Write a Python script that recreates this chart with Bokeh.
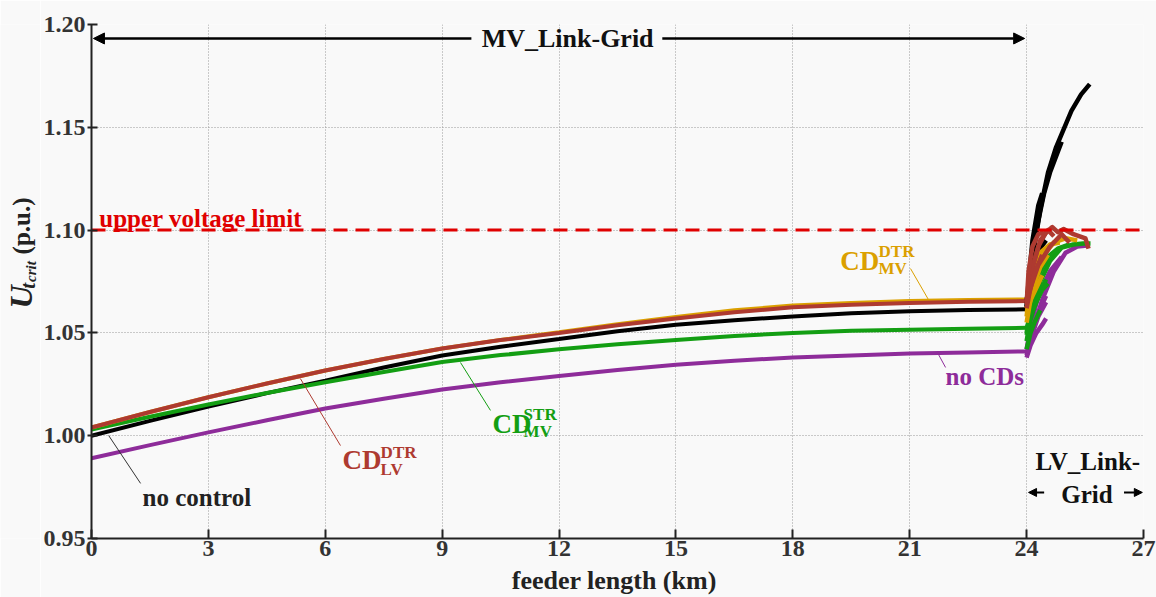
from bokeh.plotting import figure
from bokeh.layouts import row
from bokeh.models import (FixedTicker, PrintfTickFormatter, Label, Arrow, NormalHead)
from bokeh.embed import file_html
from bokeh.resources import INLINE
import math

# ---------------- data ----------------
x_mv = [0, 1.5, 3, 4.5, 6, 7.5, 9, 10.5, 12, 13.5, 15, 16.5, 18, 19.5, 21, 22.5, 24]
no_control = [1.000, 1.0072, 1.0142, 1.0207, 1.0268, 1.0332, 1.039, 1.0433, 1.047, 1.0508, 1.054, 1.0562, 1.058, 1.0595, 1.0605, 1.0611, 1.0615]
cd_lv_dtr = [1.004, 1.0115, 1.0187, 1.0254, 1.0317, 1.0373, 1.0424, 1.0465, 1.050, 1.0537, 1.057, 1.0600, 1.0625, 1.0637, 1.0645, 1.0651, 1.0655]
cd_mv_dtr = [1.004, 1.0115, 1.0187, 1.0254, 1.0317, 1.0373, 1.0424, 1.0466, 1.0503, 1.0542, 1.0578, 1.0610, 1.0633, 1.0646, 1.0655, 1.066, 1.0663]
cd_mv_str = [1.003, 1.0092, 1.0152, 1.0208, 1.026, 1.031, 1.0358, 1.0392, 1.042, 1.0445, 1.0465, 1.0485, 1.050, 1.051, 1.0515, 1.052, 1.0525]
no_cds = [0.989, 0.9954, 1.0016, 1.0075, 1.0132, 1.018, 1.0225, 1.026, 1.029, 1.032, 1.0345, 1.0365, 1.038, 1.039, 1.040, 1.0405, 1.041]

# LV feeder branches (x list, y list)
lv_no_control = [
    ([24.0, 24.08, 24.2, 24.35, 24.55, 24.75, 24.95, 25.15, 25.4, 25.62],
     [1.061, 1.075, 1.092, 1.110, 1.128, 1.140, 1.149, 1.158, 1.166, 1.171]),
    ([24.0, 24.1, 24.25, 24.45, 24.6, 24.8, 24.9],
     [1.063, 1.080, 1.100, 1.118, 1.128, 1.138, 1.143]),
    ([24.0, 24.05, 24.15, 24.3, 24.4],
     [1.062, 1.075, 1.095, 1.112, 1.118]),
    ([24.0, 24.12, 24.3, 24.5],
     [1.066, 1.078, 1.090, 1.095]),
]
lv_no_cds = [
    ([24.0, 24.15, 24.4, 24.7, 25.0, 25.3, 25.55], [1.039, 1.050, 1.066, 1.080, 1.089, 1.092, 1.0925]),
    ([24.0, 24.1, 24.25, 24.4, 24.5], [1.038, 1.044, 1.050, 1.054, 1.057]),
    ([24.05, 24.2, 24.35, 24.5], [1.045, 1.055, 1.062, 1.068]),
    ([24.0, 24.1, 24.3, 24.5], [1.040, 1.047, 1.058, 1.065]),
    ([24.0, 24.12, 24.3, 24.6, 24.9], [1.042, 1.055, 1.068, 1.080, 1.087]),
]
lv_cd_mv_str = [
    ([24.0, 24.15, 24.35, 24.6, 24.9, 25.2, 25.45, 25.64], [1.052, 1.062, 1.075, 1.085, 1.0915, 1.093, 1.0935, 1.0935]),
    ([24.0, 24.08, 24.2, 24.35, 24.5], [1.046, 1.055, 1.063, 1.070, 1.076]),
    ([24.0, 24.1, 24.25, 24.4, 24.55], [1.049, 1.058, 1.065, 1.071, 1.074]),
    ([24.0, 24.1, 24.2, 24.35], [1.042, 1.050, 1.055, 1.061]),
    ([24.0, 24.12, 24.3, 24.55, 24.8, 25.1], [1.050, 1.064, 1.078, 1.087, 1.091, 1.093]),
]
lv_cd_mv_dtr = [
    ([24.0, 24.1, 24.25, 24.45, 24.7, 25.0, 25.3], [1.062, 1.070, 1.080, 1.088, 1.094, 1.096, 1.095]),
    ([24.0, 24.08, 24.2, 24.35, 24.55], [1.055, 1.064, 1.074, 1.082, 1.088]),
    ([24.0, 24.1, 24.25, 24.4], [1.060, 1.066, 1.072, 1.078]),
    ([24.0, 24.06, 24.18, 24.35, 24.6, 24.85], [1.058, 1.068, 1.080, 1.089, 1.093, 1.094]),
]
lv_cd_lv_dtr = [
    ([24.0, 24.1, 24.3, 24.5, 24.66, 24.8, 24.95, 25.2, 25.51, 25.59],
     [1.065, 1.078, 1.092, 1.099, 1.1015, 1.099, 1.1005, 1.098, 1.096, 1.091]),
    ([24.0, 24.15, 24.35, 24.55, 24.7], [1.066, 1.082, 1.095, 1.100, 1.097]),
    ([24.0, 24.1, 24.3, 24.6, 24.9, 25.1], [1.065, 1.072, 1.083, 1.092, 1.098, 1.094]),
    ([24.0, 24.08, 24.2, 24.4], [1.062, 1.070, 1.079, 1.088]),
    ([24.0, 24.05, 24.15, 24.3, 24.45], [1.064, 1.080, 1.092, 1.098, 1.099]),
]

upper_limit = 1.10
x_ticks = [0, 3, 6, 9, 12, 15, 18, 21, 24, 27]
y_ticks = [0.95, 1.00, 1.05, 1.10, 1.15, 1.20]

C_BLACK = "#000000"
C_BROWN = "#AE3A30"
C_ORANGE = "#DBA000"
C_GREEN = "#139E13"
C_PURPLE = "#8E2C9A"
C_RED = "#E00000"
FONT = "'Liberation Serif', 'DejaVu Serif', serif"
BG = "#f9f9f9"
TXT = "#222222"

p = figure(width=1116, height=597, x_range=(0, 27), y_range=(0.95, 1.20),
           output_backend="svg", toolbar_location=None,
           min_border_left=51, min_border_right=13, min_border_top=24, min_border_bottom=59)
p.background_fill_color = BG
p.border_fill_color = BG
p.outline_line_color = None

p.xaxis.ticker = FixedTicker(ticks=x_ticks)
p.yaxis.ticker = FixedTicker(ticks=y_ticks)
p.yaxis.formatter = PrintfTickFormatter(format="%.2f")
for ax in (p.xaxis[0], p.yaxis[0]):
    ax.axis_line_color = "#222222"
    ax.axis_line_width = 2
    ax.major_tick_line_color = "#222222"
    ax.major_tick_line_width = 2
    ax.minor_tick_line_color = None
    ax.major_label_text_font = FONT
    ax.major_label_text_font_style = "bold"
    ax.major_label_text_font_size = "24px"
    ax.major_label_text_color = "#333333"
p.xaxis.major_tick_in = 9
p.xaxis.major_tick_out = 0
p.xaxis.major_label_standoff = 2
p.xaxis.axis_label = "feeder length  (km)"
p.xaxis.axis_label_standoff = 7
p.xaxis.axis_label_text_font = FONT
p.xaxis.axis_label_text_font_style = "bold"
p.xaxis.axis_label_text_font_size = "26px"
p.xaxis.axis_label_text_color = TXT
p.yaxis.major_tick_in = 6
p.yaxis.major_tick_out = 4
p.yaxis.major_label_standoff = 2

for g in (p.xgrid[0], p.ygrid[0]):
    g.grid_line_color = "#999999"
    g.grid_line_dash = "1 2"
    g.grid_line_width = 1

W = 4
# MV curves
p.line(x_mv, no_control, line_color=C_BLACK, line_width=W)
p.line(x_mv, no_cds, line_color=C_PURPLE, line_width=W)
p.line(x_mv, cd_mv_str, line_color=C_GREEN, line_width=W)
p.line(x_mv, cd_mv_dtr, line_color=C_ORANGE, line_width=W)
p.line(x_mv, cd_lv_dtr, line_color=C_BROWN, line_width=W)

# LV branches
for branches, col in ((lv_no_control, C_BLACK), (lv_no_cds, C_PURPLE), (lv_cd_mv_str, C_GREEN),
                      (lv_cd_mv_dtr, C_ORANGE), (lv_cd_lv_dtr, C_BROWN)):
    for bx, by in branches:
        p.line(bx, by, line_color=col, line_width=4.5, line_join="round")

# upper voltage limit
p.line([0, 27], [upper_limit, upper_limit], line_color=C_RED, line_width=3, line_dash="14 8")

# leader lines
p.line([0.44, 1.26], [1.0001, 0.9768], line_color="#333333", line_width=1)
p.line([5.36, 6.39], [1.0278, 0.9952], line_color=C_BROWN, line_width=1)
p.line([9.47, 10.24], [1.0356, 1.0123], line_color=C_GREEN, line_width=1)
p.line([21.02, 21.48], [1.0813, 1.0662], line_color=C_ORANGE, line_width=1)
p.line([21.71, 21.92], [1.0405, 1.0332], line_color=C_PURPLE, line_width=1)


def lab(fig, x, y, t, col, size="24px", align="left", baseline="middle", style="bold", angle=0.0):
    fig.add_layout(Label(x=x, y=y, text=t, text_color=col, text_font=FONT, text_font_style=style,
                         text_font_size=size, text_align=align, text_baseline=baseline, angle=angle))


lab(p, 0.2, 1.1058, "upper voltage limit", C_RED, "25px", baseline="alphabetic")
lab(p, 1.31, 0.970, "no control", TXT, "25px")
lab(p, 21.92, 1.0288, "no CDs", C_PURPLE, "25px")
# CD labels with super/subscripts
lab(p, 6.44, 0.988, "CD", C_BROWN, "27px")
lab(p, 7.42, 0.9918, "DTR", C_BROWN, "17px")
lab(p, 7.42, 0.9835, "LV", C_BROWN, "17px")
lab(p, 10.29, 1.0055, "CD", C_GREEN, "27px")
lab(p, 11.09, 1.0103, "STR", C_GREEN, "17px")
lab(p, 11.09, 1.002, "MV", C_GREEN, "17px")
lab(p, 19.22, 1.0852, "CD", C_ORANGE, "27px")
lab(p, 20.2, 1.0896, "DTR", C_ORANGE, "17px")
lab(p, 20.2, 1.0813, "MV", C_ORANGE, "17px")

# MV link-grid arrow
head = dict(size=11, fill_color="black", line_color="black")
p.add_layout(Arrow(end=NormalHead(**head), x_start=9.75, y_start=1.1932, x_end=0.05, y_end=1.1932,
                   line_width=2.5, line_color="black"))
p.add_layout(Arrow(end=NormalHead(**head), x_start=14.65, y_start=1.1932, x_end=23.95, y_end=1.1932,
                   line_width=2.5, line_color="black"))
lab(p, 12.22, 1.1932, "MV_Link-Grid", "#111111", "26px", align="center")

# LV link-grid arrow
head2 = dict(size=8, fill_color="black", line_color="black")
p.add_layout(Arrow(end=NormalHead(**head2), x_start=24.45, y_start=0.9724, x_end=24.05, y_end=0.9724,
                   line_width=2, line_color="black"))
p.add_layout(Arrow(end=NormalHead(**head2), x_start=26.5, y_start=0.9724, x_end=26.97, y_end=0.9724,
                   line_width=2, line_color="black"))
lab(p, 25.57, 0.9875, "LV_Link-", "#111111", "25px", align="center")
lab(p, 25.55, 0.9714, "Grid", "#111111", "25px", align="center")

# y-axis label strip (left)
left = figure(width=40, height=597, x_range=(0, 40), y_range=(597, 0), output_backend="svg",
              toolbar_location=None, min_border=0)
left.axis.visible = False
left.grid.visible = False
left.outline_line_color = None
left.background_fill_color = BG
left.border_fill_color = BG
lab(left, 20, 330, "U", TXT, "32px", style="bold italic", angle=math.pi / 2)
lab(left, 27, 307, "t", TXT, "21px", style="bold italic", angle=math.pi / 2)
lab(left, 30.5, 299, "crit", TXT, "15px", style="bold italic", angle=math.pi / 2)
lab(left, 21, 267, "(p.u.)", TXT, "25px", angle=math.pi / 2)

layout = row(left, p, spacing=0)
open("out.html", "w").write(file_html(layout, INLINE))
